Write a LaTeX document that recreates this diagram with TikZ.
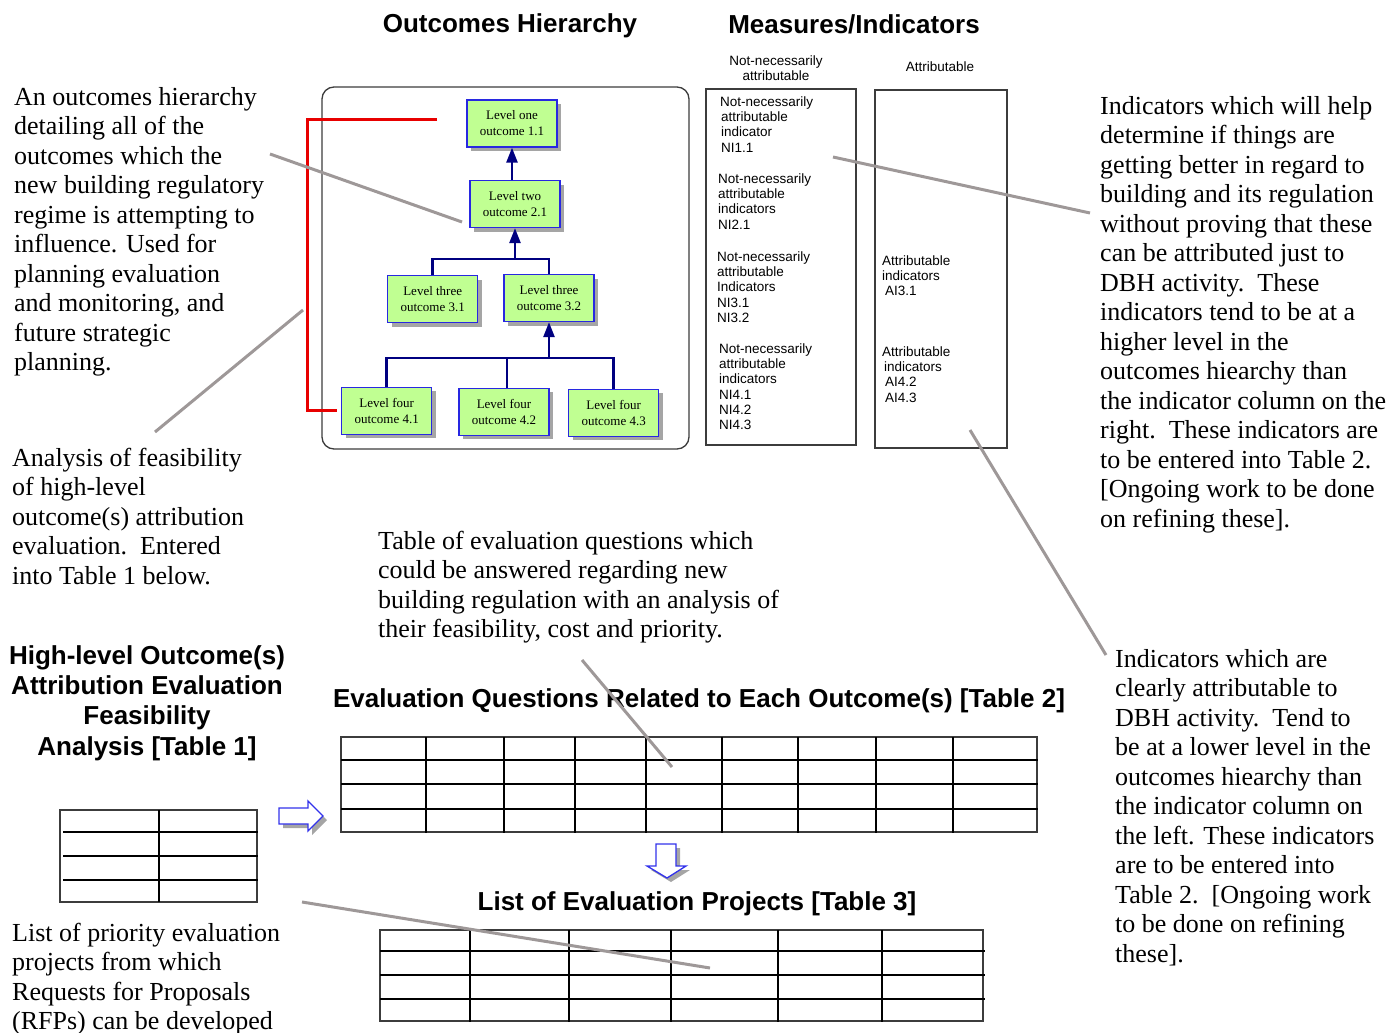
\documentclass[tikz,border=0pt]{standalone}
\usepackage{fontspec}
\setmainfont{Liberation Serif}
\newfontfamily\headsans{Liberation Sans}
\usetikzlibrary{arrows.meta,shadows}

\definecolor{boxgreen}{RGB}{192,255,146}
\definecolor{boxblue}{RGB}{40,40,225}
\definecolor{treenavy}{RGB}{0,0,128}
\definecolor{pointergray}{RGB}{158,152,152}
\definecolor{shadegray}{RGB}{165,165,165}
\definecolor{framegray}{RGB}{60,60,60}
\definecolor{bracketred}{RGB}{232,0,0}
\definecolor{hollowblue}{RGB}{50,50,235}

\begin{document}
\begin{tikzpicture}[x=1pt,y=-1pt,
  outcome/.style={draw=boxblue, line width=1.4pt, fill=boxgreen,
    minimum width=90pt, minimum height=47pt, inner sep=0pt, align=center,
    font=\fontsize{13}{16}\selectfont,
    drop shadow={shadow xshift=4pt, shadow yshift=-4pt, fill=shadegray, opacity=1}},
  tree/.style={draw=treenavy, line width=2.6pt},
  treearrow/.style={tree, -{Triangle[length=15pt,width=11pt]}},
  framebox/.style={draw=framegray, line width=1.3pt, inner sep=0pt},
  para/.style={anchor=north west, inner sep=0pt, align=left,
    font=\fontsize{26}{29.5}\selectfont},
  heading/.style={anchor=base, inner sep=0pt, font=\headsans\bfseries\fontsize{26}{30.3}\selectfont},
  small/.style={anchor=north west, inner sep=0pt, align=left,
    font=\headsans\fontsize{13.5}{15.3}\selectfont},
  pointer/.style={draw=pointergray, line width=3pt},
  gridthin/.style={draw=framegray, line width=1.4pt},
  gridthick/.style={draw=black, line width=2.8pt},
  hollow/.style={draw=hollowblue, fill=white, line width=1.3pt, line join=miter},
  hollowshade/.style={fill=shadegray}
]
\useasboundingbox (0,0) rectangle (1390,1033);

% ---------- headings ----------
\node[heading] (hOH) at (510,33) {Outcomes Hierarchy};
\node[heading] (hMI) at (854,34) {Measures/Indicators};
\node[heading, anchor=north, align=center] (hT1) at (147,642.8)
  {\strut High-level Outcome(s)\\Attribution Evaluation\\Feasibility\\Analysis [Table 1]};
\node[heading] (hT2) at (699,707) {Evaluation Questions Related to Each Outcome(s) [Table 2]};
\node[heading] (hT3) at (697,910) {List of Evaluation Projects [Table 3]};

% ---------- outcomes hierarchy ----------
\node[framebox, rounded corners=12pt, minimum width=367pt, minimum height=362pt]
  (hier) at (505.5,268) {};

\coordinate (redA) at (437,119);
\coordinate (redB) at (307,119);
\coordinate (redC) at (307,410);
\coordinate (redD) at (337,410);
\draw[draw=bracketred, line width=3pt] (redA) -- (redB) -- (redC) -- (redD);

\node[outcome] (l1)  at (512,123.5) {Level one\\outcome 1.1};
\node[outcome] (l2)  at (515,204)   {Level two\\outcome 2.1};
\node[outcome] (l31) at (432.7,299.2) {Level three\\outcome 3.1};
\node[outcome] (l32) at (549,298)   {Level three\\outcome 3.2};
\node[outcome] (l41) at (386.7,410.7) {Level four\\outcome 4.1};
\node[outcome] (l42) at (504,411.7) {Level four\\outcome 4.2};
\node[outcome] (l43) at (613.7,412.7) {Level four\\outcome 4.3};

\coordinate (j3) at (515,259);
\coordinate (j4) at (549,358);
\draw[treearrow] (l1.south |- l2.north) -- (l1.south);
\draw[tree] (l31.north) |- (j3) -| (l32.north);
\draw[treearrow] (j3) -- (l2.south);
\draw[tree] (l41.north) |- (j4) -| (l43.north);
\draw[tree] ([xshift=3pt]l42.north) -- ([xshift=3pt]l42.north |- j4);
\draw[treearrow] (j4) -- (l32.south);

% ---------- measures / indicators ----------
\node[small, anchor=north, align=center] (hNN) at (776,54.3) {\strut Not-necessarily\\attributable};
\node[small, anchor=base] (hAt) at (940,72) {Attributable};

\node[framebox, minimum width=150pt, minimum height=356pt] (colN) at (781,267) {};
\node[framebox, minimum width=132pt, minimum height=358pt] (colA) at (941,269) {};

\node[small] (n1) at (720,95.3)  {\strut Not-necessarily\\\hspace{1pt}attributable\\\hspace{1pt}indicator\\\hspace{1pt}NI1.1};
\node[small] (n2) at (718,172.3) {\strut Not-necessarily\\attributable\\indicators\\NI2.1};
\node[small] (n3) at (717,250.3) {\strut Not-necessarily\\attributable\\Indicators\\NI3.1\\NI3.2};
\node[small] (n4) at (719,342.3) {\strut Not-necessarily\\attributable\\indicators\\NI4.1\\NI4.2\\NI4.3};
\node[small] (a3) at (882,254.3) {\strut Attributable\\indicators\\\hspace{3pt}AI3.1};
\node[small] (a4) at (882,345.3) {\strut Attributable\\\hspace{2pt}indicators\\\hspace{3pt}AI4.2\\\hspace{3pt}AI4.3};

% ---------- explanatory paragraphs ----------
\node[para] (pHier) at (14,84.4) {\strut An outcomes hierarchy\\detailing all of the\\outcomes which the\\new building regulatory\\regime is attempting to\\influence. Used for\\planning evaluation\\and monitoring, and\\future strategic\\planning.};
\node[para] (pFeas) at (12,445.4) {\strut Analysis of feasibility\\of high-level\\outcome(s) attribution\\evaluation.\ \ Entered\\into Table 1 below.};
\node[para] (pQues) at (378,528.4) {\strut Table of evaluation questions which\\could be answered regarding new\\building regulation with an analysis of\\their feasibility, cost and priority.};
\node[para] (pList) at (12,920.4) {\strut List of priority evaluation\\projects from which\\Requests for Proposals\\(RFPs) can be developed};
\node[para] (pNI) at (1100,93.4) {\strut Indicators which will help\\determine if things are\\getting better in regard to\\building and its regulation\\without proving that these\\can be attributed just to\\DBH activity.\ \ These\\indicators tend to be at a\\higher level in the\\outcomes hiearchy than\\the indicator column on the\\right.\ \ These indicators are\\to be entered into Table 2.\\{[}Ongoing work to be done\\on refining these{]}.};
\node[para] (pAI) at (1115,646.4) {\strut Indicators which are\\clearly attributable to\\DBH activity.\ \ Tend to\\be at a lower level in the\\outcomes hiearchy than\\the indicator column on\\the left. These indicators\\are to be entered into\\Table 2.\ \ {[}Ongoing work\\to be done on refining\\these{]}.};

% ---------- table 1 ----------
\draw[gridthin] (60,810) rectangle (257,902);
\foreach \yy in {832,856,880} \draw[gridthick] (63,\yy) -- (258,\yy);
\draw[gridthick] (159,810) -- (159,902);

% ---------- table 2 ----------
\draw[gridthin] (341,737) rectangle (1037,832);
\foreach \yy in {760,784,809} \draw[gridthick] (341,\yy) -- (1038,\yy);
\foreach \xx in {426,504,575,646,722,798,876,953} \draw[gridthick] (\xx,737) -- (\xx,833);

% ---------- table 3 ----------
\draw[gridthin] (380,930) rectangle (983,1021);
\foreach \yy in {951,975,999} \draw[gridthick] (380,\yy) -- (985,\yy);
\foreach \xx in {470,569,671,778,882} \draw[gridthick] (\xx,930) -- (\xx,1022);

% ---------- hollow block arrows ----------
\begin{scope}[shift={(4,4)}]
  \fill[hollowshade] (279,808) -- (308,808) -- (308,801) -- (323,816) -- (308,831) -- (308,824) -- (279,824) -- cycle;
  \fill[hollowshade] (656,844) -- (676,844) -- (676,866) -- (686,866) -- (667,878) -- (647,866) -- (656,866) -- cycle;
\end{scope}
\draw[hollow] (279,808) -- (308,808) -- (308,801) -- (323,816) -- (308,831) -- (308,824) -- (279,824) -- cycle;
\draw[hollow] (656,844) -- (676,844) -- (676,866) -- (686,866) -- (667,878) -- (647,866) -- (656,866) -- cycle;

% ---------- pointer lines ----------
\coordinate (p1a) at (270,154);  \coordinate (p1b) at (462,222);
\coordinate (p2a) at (155,432);  \coordinate (p2b) at (303,310);
\coordinate (p3a) at (1090,213); \coordinate (p3b) at (833,157);
\coordinate (p4a) at (1106,655); \coordinate (p4b) at (970,430);
\coordinate (p5a) at (582,660);  \coordinate (p5b) at (672,767);
\coordinate (p6a) at (302,902);  \coordinate (p6b) at (710,968);
\draw[pointer] (p1a) -- (p1b);
\draw[pointer] (p2a) -- (p2b);
\draw[pointer] (p3a) -- (p3b);
\draw[pointer] (p4a) -- (p4b);
\draw[pointer] (p5a) -- (p5b);
\draw[pointer] (p6a) -- (p6b);
\end{tikzpicture}
\end{document}
